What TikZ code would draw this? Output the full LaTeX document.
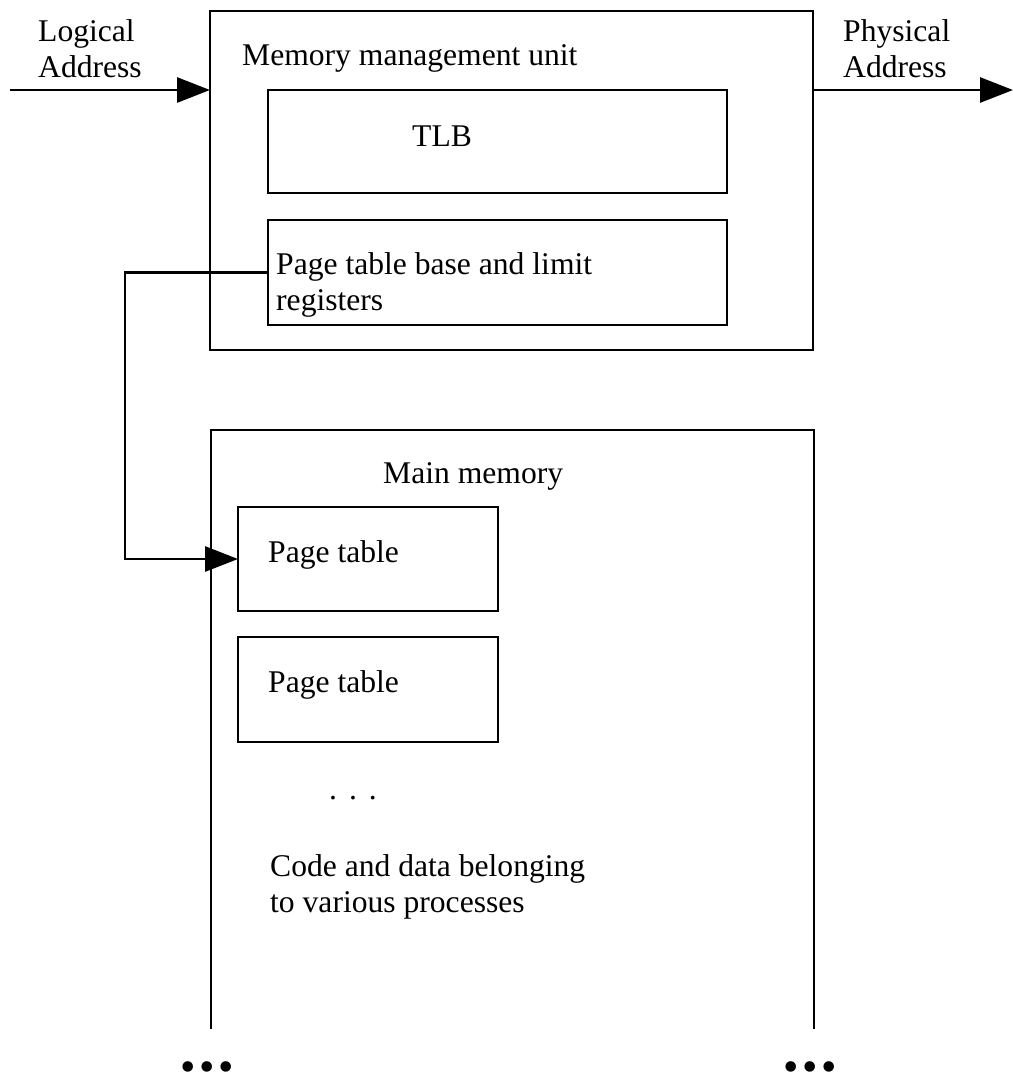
\documentclass[tikz,border=0pt]{standalone}
\usepackage{fontspec}
\setmainfont{Liberation Serif}
\usetikzlibrary{arrows.meta}

\begin{document}
\begin{tikzpicture}[x=1pt, y=-1pt,
    font=\fontsize{31.6}{36}\selectfont,
    unitbox/.style ={draw, line width=2.8pt, inner sep=0pt, outer sep=0pt, anchor=north west},
    boxtext/.style ={inner sep=0pt, anchor=base west, align=left},
    link/.style ={line width=2.8pt, -{Triangle[length=33pt,width=25pt]}}]
   \useasboundingbox (0,0) rectangle (1013,1080);
   % memory management unit
   \node[unitbox, minimum width=603pt, minimum height=339pt] (mmu) at (210,11) {};
   \node[unitbox, minimum width=459pt, minimum height=103pt] (tlb) at (268,90) {};
   \node[unitbox, minimum width=459pt, minimum height=105pt] (ptreg) at (268,220) {};
   \node[boxtext] (mmutext) at (242,65) {Memory management unit};
   \node[boxtext] (tlbtext) at (412,146) {TLB};
   \node[boxtext] (ptregtext) at (276,310) {Page table base and limit\\registers};
   % main memory
   \draw[line width=2.8pt] (211,1029) -- (211,430) -- (814,430) -- (814,1029);
   \node[boxtext] (memtext) at (383,483) {Main memory};
   \node[unitbox, minimum width=260pt, minimum height=104pt] (pt1) at (238,507) {};
   \node[unitbox, minimum width=260pt, minimum height=105pt] (pt2) at (238,637) {};
   \node[boxtext] (pt1text) at (268,562) {Page table};
   \node[boxtext] (pt2text) at (268,692) {Page table};
   \node[inner sep=0pt] (moredots) at (353,798) {.\hspace{12pt}.\hspace{12pt}.};
   \node[boxtext] (codetext) at (270,912) {Code and data belonging\\to various processes};
   \node[inner sep=0pt, font=\fontsize{44}{44}\selectfont] (leftdots) at (207,1072) {•\hspace{3.6pt}•\hspace{3.6pt}•};
   \node[inner sep=0pt, font=\fontsize{44}{44}\selectfont] (rightdots) at (810,1072) {•\hspace{3.6pt}•\hspace{3.6pt}•};
   % addresses
   \node[boxtext] (logical) at (38,77) {Logical\\Address};
   \node[boxtext] (physical) at (843,77) {Physical\\Address};
   \coordinate (lstart) at (10,90);
   \coordinate (pend) at (1013,90);
   \draw[link] (lstart) -- (lstart -| mmu.west);
   \draw[link] (pend -| mmu.east) -- (pend);
   \draw[link] (ptreg.west) -- ++(-143,0) |- (pt1.west);
\end{tikzpicture}
\end{document}
